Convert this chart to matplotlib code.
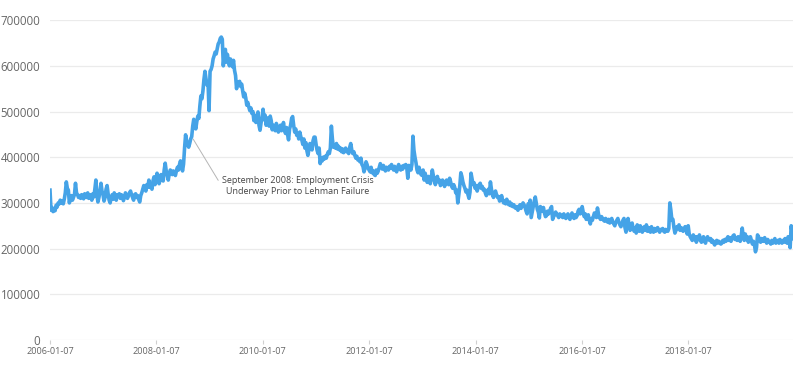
import matplotlib
matplotlib.use("Agg")
import matplotlib.pyplot as plt
import matplotlib.ticker as mticker
import pandas as pd

# weekly initial claims, thousands (week ending Saturday)
claims_2006 = [328, 284, 290, 281, 287, 283, 295, 291, 300, 298, 306, 300, 304,
               298, 308, 322, 346, 332, 328, 300, 310, 316, 306, 312, 318, 343,
               322, 318, 312, 316, 310, 318, 314, 309, 320, 316, 312, 322, 310,
               316, 318, 306, 320, 313, 330, 350, 318, 302, 312, 325, 343, 326]
claims_2007 = [318, 304, 312, 330, 338, 320, 306, 300, 312, 318, 308, 322, 314,
               306, 318, 316, 320, 310, 318, 314, 305, 312, 322, 318, 310, 316,
               322, 326, 318, 312, 306, 318, 320, 312, 316, 308, 302, 316, 322,
               330, 338, 332, 326, 340, 335, 350, 334, 342, 330, 348, 357, 340]
claims_2008 = [352, 365, 358, 342, 350, 362, 358, 348, 372, 387, 370, 360, 350,
               364, 372, 368, 362, 370, 366, 360, 370, 378, 372, 384, 392, 380,
               370, 385, 420, 449, 436, 428, 422, 430, 440, 445, 468, 483, 470,
               462, 478, 490, 485, 512, 534, 528, 545, 570, 588, 572, 558, 565]
claims_2009 = [502, 588, 592, 600, 615, 622, 630, 626, 637, 648, 652, 660, 663,
               658, 600, 622, 636, 608, 625, 610, 600, 615, 608, 598, 612, 590,
               579, 550, 565, 560, 566, 555, 560, 545, 532, 540, 530, 514, 520,
               510, 502, 508, 496, 500, 480, 492, 476, 478, 499, 470, 459, 475]
claims_2010 = [488, 505, 482, 492, 470, 486, 476, 468, 490, 480, 460, 470, 462,
               458, 474, 466, 455, 462, 470, 458, 462, 476, 460, 452, 465, 450,
               438, 462, 470, 485, 489, 470, 455, 462, 448, 452, 440, 455, 445,
               438, 428, 440, 420, 432, 414, 404, 418, 430, 424, 416, 436, 444]
claims_2011 = [444, 428, 415, 408, 420, 386, 398, 392, 400, 396, 402, 398, 406,
               412, 408, 420, 468, 440, 422, 426, 420, 430, 418, 424, 416, 420,
               412, 418, 410, 414, 420, 412, 416, 408, 422, 430, 416, 408, 412,
               404, 398, 402, 394, 396, 390, 398, 384, 380, 368, 376, 390, 384, 376]
claims_2012 = [372, 368, 378, 366, 370, 362, 360, 372, 365, 370, 378, 386, 380,
               374, 382, 376, 370, 378, 374, 372, 380, 376, 384, 378, 372, 380,
               374, 368, 378, 384, 376, 372, 380, 374, 382, 378, 384, 376, 354,
               382, 380, 372, 384, 446, 415, 400, 388, 372, 366, 378, 368, 362]
claims_2013 = [360, 372, 350, 365, 352, 345, 358, 350, 342, 356, 372, 360, 348,
               340, 352, 358, 346, 350, 338, 344, 350, 346, 336, 342, 350, 344,
               340, 354, 346, 336, 332, 340, 334, 322, 328, 300, 318, 338, 366,
               358, 346, 338, 332, 324, 328, 318, 310, 324, 365, 352, 340, 344]
claims_2014 = [332, 338, 326, 334, 340, 343, 332, 336, 328, 330, 322, 316, 324,
               330, 320, 346, 330, 318, 312, 322, 326, 318, 312, 314, 304, 310,
               316, 306, 300, 304, 298, 308, 300, 296, 302, 294, 298, 292, 296,
               290, 288, 292, 284, 290, 296, 288, 294, 300, 296, 290, 282, 276]
claims_2015 = [298, 294, 306, 268, 280, 292, 304, 313, 300, 286, 280, 267, 292,
               288, 282, 290, 278, 270, 272, 282, 276, 280, 288, 292, 264, 270,
               274, 280, 276, 272, 268, 276, 274, 270, 268, 276, 272, 266, 270,
               276, 268, 264, 272, 278, 270, 266, 274, 268, 272, 282, 286, 276]
claims_2016 = [278, 292, 280, 270, 276, 264, 268, 274, 262, 254, 266, 262, 270,
               278, 276, 268, 289, 276, 268, 264, 270, 266, 262, 260, 266, 262,
               258, 264, 256, 262, 266, 258, 254, 250, 258, 262, 266, 258, 252,
               248, 254, 262, 266, 246, 236, 252, 266, 252, 240, 246, 256, 244, 238]
claims_2017 = [246, 234, 252, 246, 238, 250, 244, 236, 242, 248, 240, 252, 238,
               246, 240, 236, 248, 240, 236, 244, 238, 242, 246, 240, 236, 242,
               240, 244, 238, 236, 242, 240, 238, 244, 300, 284, 262, 264, 246,
               234, 240, 248, 244, 252, 240, 246, 244, 238, 244, 248, 240, 232]
claims_2018 = [250, 232, 226, 222, 218, 230, 222, 226, 214, 226, 220, 230, 218,
               214, 220, 226, 216, 212, 222, 226, 220, 218, 222, 214, 218, 212,
               208, 214, 218, 212, 216, 214, 210, 212, 218, 214, 220, 216, 222,
               226, 218, 224, 216, 222, 228, 230, 220, 224, 218, 226, 220, 216]
claims_2019 = [228, 245, 226, 218, 232, 220, 226, 214, 220, 226, 218, 210, 216,
               208, 193, 202, 230, 226, 220, 214, 222, 218, 216, 224, 218, 212,
               220, 216, 214, 210, 218, 212, 216, 222, 212, 216, 218, 212, 220,
               216, 212, 218, 214, 222, 216, 212, 226, 218, 202, 250, 236, 222]

tick_dates = ["2006-01-07", "2008-01-07", "2010-01-07", "2012-01-07",
              "2014-01-07", "2016-01-07", "2018-01-07"]
y_ticks = [0, 100000, 200000, 300000, 400000, 500000, 600000, 700000]

note_date = "2008-09-06"
note_text = "September 2008: Employment Crisis\nUnderway Prior to Lehman Failure"

years = [claims_2006, claims_2007, claims_2008, claims_2009, claims_2010,
         claims_2011, claims_2012, claims_2013, claims_2014, claims_2015,
         claims_2016, claims_2017, claims_2018, claims_2019]
values = [v * 1000 for yr in years for v in yr]
dates = pd.date_range("2006-01-07", periods=len(values), freq="7D")
df = pd.DataFrame({"date": dates, "claims": values})

plt.rcParams["font.family"] = ["Open Sans", "DejaVu Sans"]

fig = plt.figure(figsize=(8, 3.66), dpi=100)
ax = fig.add_axes([0.0625, 0.071, 0.929, 0.874])

ax.plot(df["date"], df["claims"], color="#45a3e7", linewidth=2.6,
        solid_joinstyle="round", zorder=3)

ax.set_xlim(df["date"].iloc[0], df["date"].iloc[-1])
ax.set_ylim(0, 700000)
ax.set_yticks(y_ticks)
ax.yaxis.set_major_formatter(mticker.FuncFormatter(lambda v, p: "%d" % v))
ax.set_xticks(pd.to_datetime(tick_dates))
ax.set_xticklabels(tick_dates)

for s in ax.spines.values():
    s.set_visible(False)
ax.grid(axis="y", color="#ebebeb", linewidth=0.9, zorder=0)
ax.tick_params(axis="y", length=0, pad=7, labelsize=8.3, labelcolor="#666666")
ax.tick_params(axis="x", length=3, width=0.8, color="#d0d0d0", pad=2,
               labelsize=6.6, labelcolor="#666666")

row = df[df["date"] == pd.Timestamp(note_date)]
ax.annotate(note_text, xy=(row["date"].iloc[0], row["claims"].iloc[0]),
            xytext=(21.6, -35.6), textcoords="offset points",
            ha="left", va="center", multialignment="center",
            fontsize=6.5, color="#444444",
            arrowprops=dict(arrowstyle="-", color="#b5b5b5", lw=0.7,
                            relpos=(0, 0.5), shrinkA=1, shrinkB=2))

fig.savefig("out.png", dpi=100)
